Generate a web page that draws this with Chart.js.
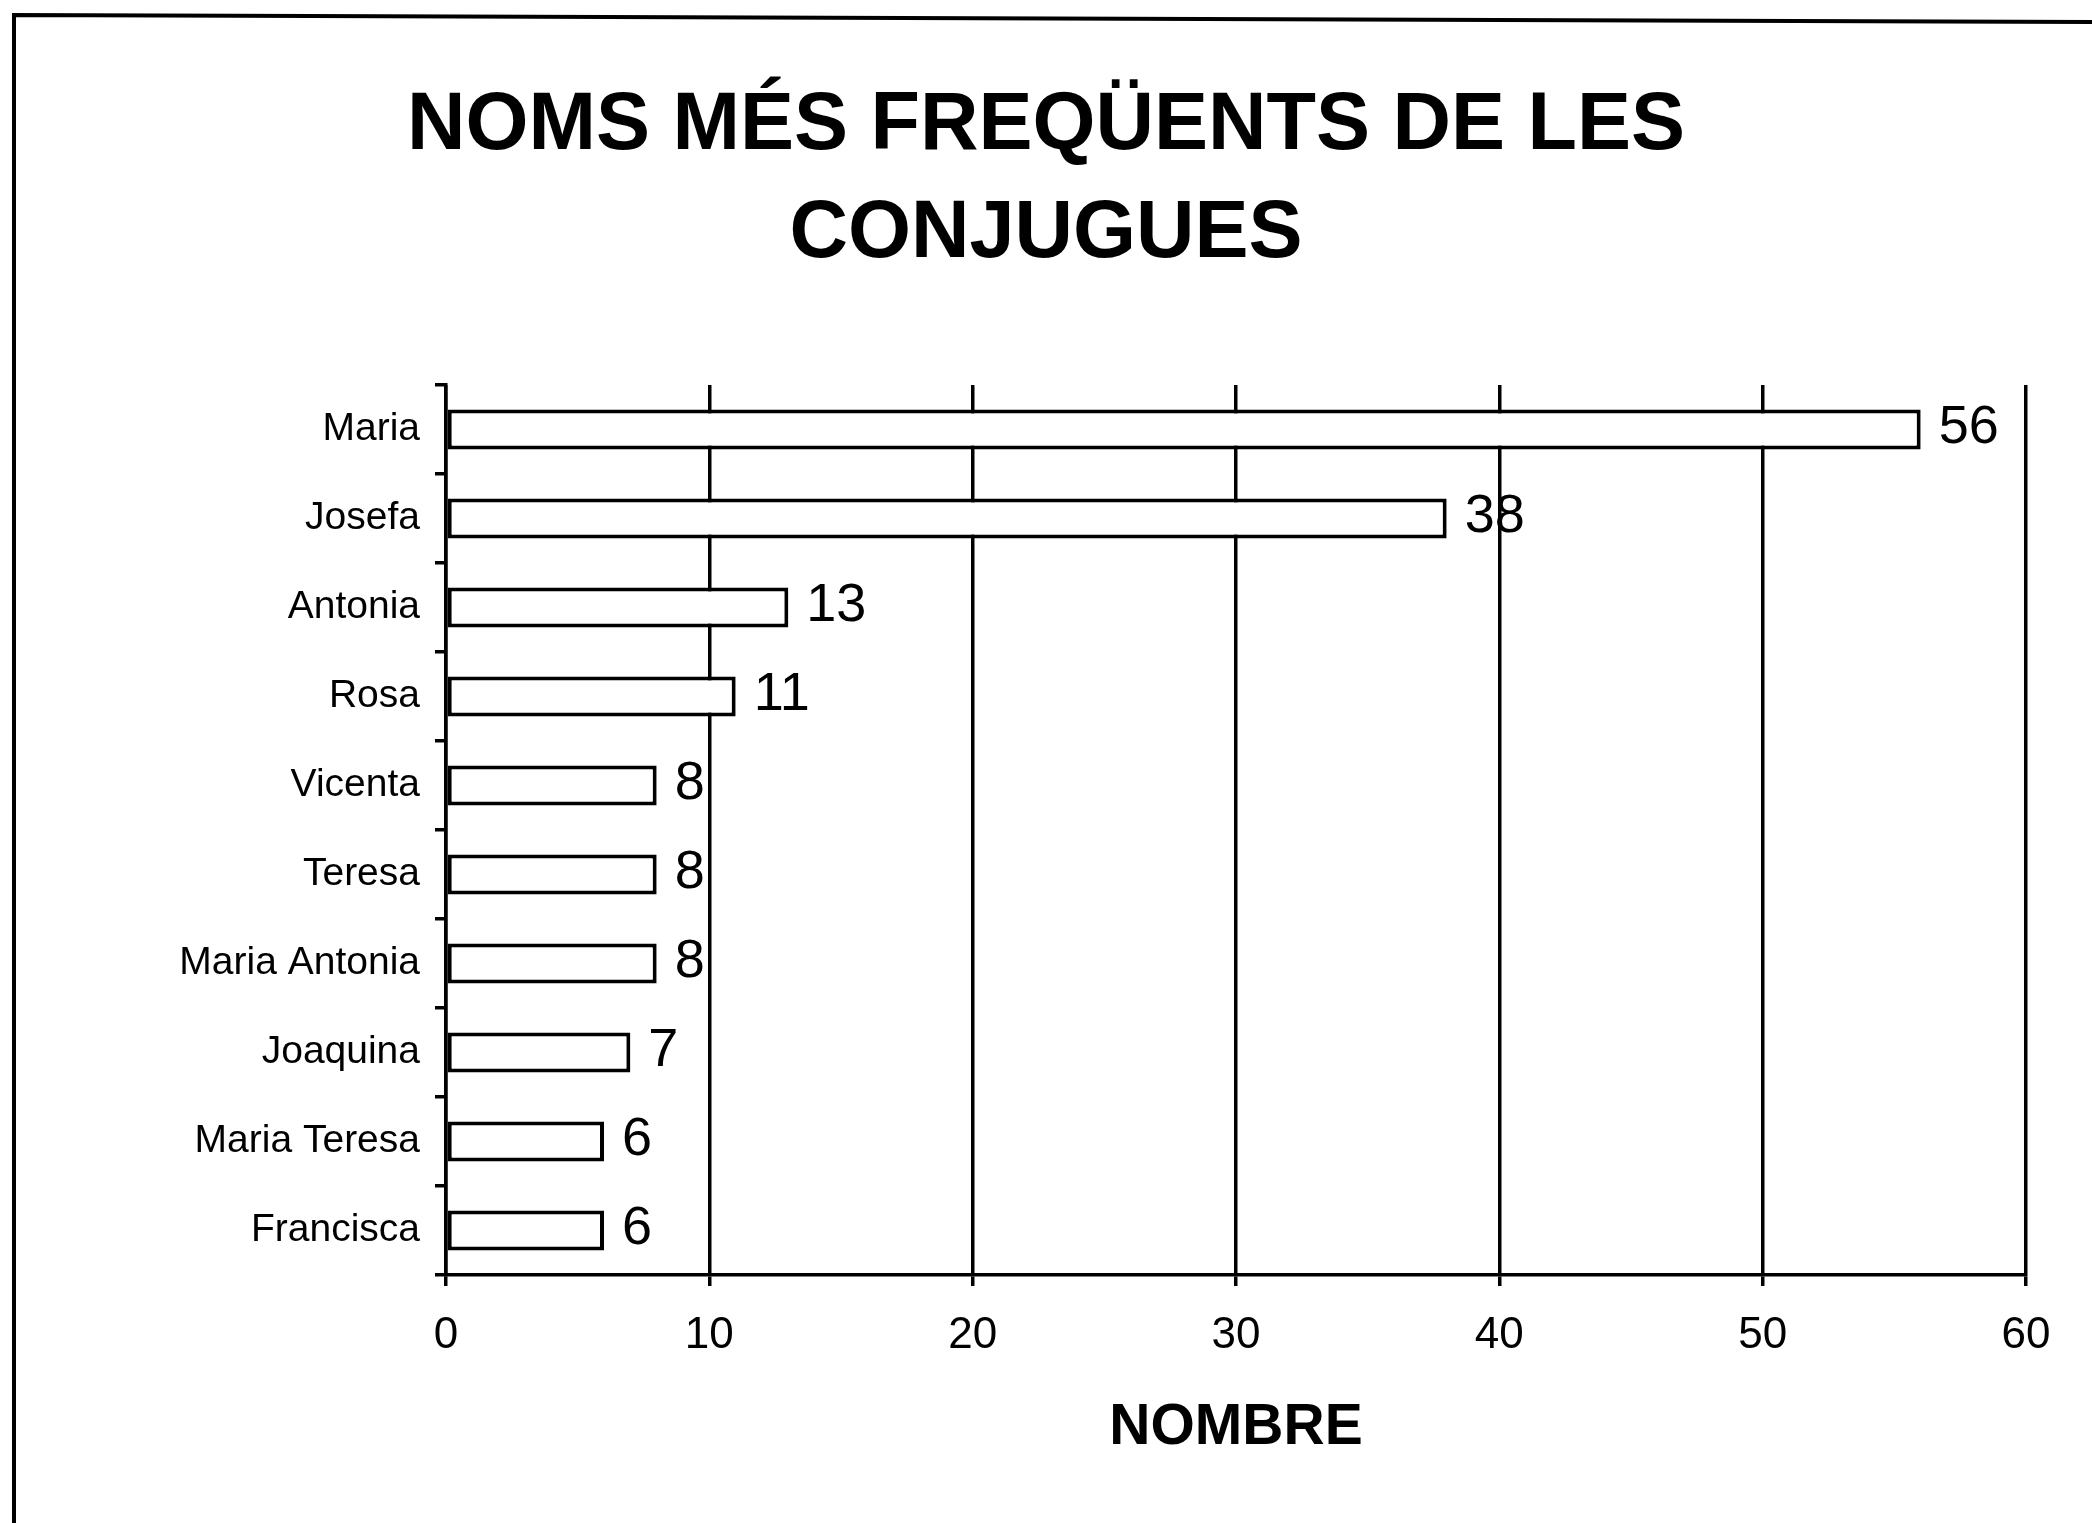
<!DOCTYPE html>
<html>
<head>
<meta charset="utf-8">
<script src="https://cdn.jsdelivr.net/npm/chart.js@4/dist/chart.umd.min.js"></script>
<style>
  html, body { margin: 0; padding: 0; background: #ffffff; }
  #wrap { position: relative; width: 2092px; height: 1523px; }
</style>
</head>
<body>
<div id="wrap"><canvas id="c" width="2092" height="1523"></canvas></div>
<script>
const chartTitle = ['NOMS MÉS FREQÜENTS DE LES', 'CONJUGUES'];
const categories = ['Maria', 'Josefa', 'Antonia', 'Rosa', 'Vicenta', 'Teresa', 'Maria Antonia', 'Joaquina', 'Maria Teresa', 'Francisca'];
const values = [56, 38, 13, 11, 8, 8, 8, 7, 6, 6];
const xAxisTitle = 'NOMBRE';
const xMin = 0, xMax = 60, xStep = 10;

const framePlugin = {
  id: 'frame',
  beforeDraw(chart) {
    const ctx = chart.ctx;
    ctx.save();
    ctx.fillStyle = '#ffffff';
    ctx.fillRect(0, 0, chart.width, chart.height);
    ctx.strokeStyle = '#000';
    ctx.lineWidth = 4;
    ctx.beginPath();
    ctx.moveTo(14, 1523);
    ctx.lineTo(14, 15);
    ctx.lineTo(chart.width, 22);
    ctx.stroke();
    ctx.restore();
  }
};

const valueLabelPlugin = {
  id: 'valueLabels',
  afterDatasetsDraw(chart) {
    const ctx = chart.ctx;
    const meta = chart.getDatasetMeta(0);
    ctx.save();
    ctx.font = '54px "Liberation Sans", Arial, sans-serif';
    ctx.fillStyle = '#000';
    ctx.textAlign = 'left';
    ctx.textBaseline = 'middle';
    meta.data.forEach((bar, i) => {
      ctx.fillText(String(values[i]), bar.x + 18, bar.y - 1);
    });
    ctx.restore();
  }
};

new Chart(document.getElementById('c'), {
  type: 'bar',
  data: {
    labels: categories,
    datasets: [{
      data: values,
      backgroundColor: '#ffffff',
      borderColor: '#000000',
      borderWidth: 4,
      borderSkipped: false,
      barPercentage: 0.45,
      categoryPercentage: 1.0
    }]
  },
  options: {
    indexAxis: 'y',
    responsive: false,
    animation: false,
    devicePixelRatio: 1,
    layout: { padding: { left: 66, right: 66, top: 0, bottom: 0 } },
    plugins: {
      legend: { display: false },
      tooltip: { enabled: false },
      title: {
        display: true,
        text: chartTitle,
        color: '#000',
        font: { family: '"Liberation Sans", Arial, sans-serif', size: 81, weight: 'bold', lineHeight: 108 / 81 },
        padding: { top: 73, bottom: 96 }
      }
    },
    scales: {
      x: {
        type: 'linear',
        position: 'bottom',
        min: xMin,
        max: xMax,
        ticks: {
          stepSize: xStep,
          color: '#000',
          padding: 23,
          font: { family: '"Liberation Sans", Arial, sans-serif', size: 44 }
        },
        grid: { color: '#000', lineWidth: 3.5, tickLength: 11, drawOnChartArea: true, drawTicks: true },
        border: { color: '#000', width: 3.5 },
        title: {
          display: true,
          text: xAxisTitle,
          color: '#000',
          font: { family: '"Liberation Sans", Arial, sans-serif', size: 57, weight: 'bold', lineHeight: 1.2 },
          padding: { top: 10, bottom: 61 }
        },
        afterFit(scale) { scale.height = 248; }
      },
      y: {
        type: 'category',
        offset: true,
        ticks: {
          color: '#000',
          padding: 15,
          font: { family: '"Liberation Sans", Arial, sans-serif', size: 39 }
        },
        grid: { offset: true, color: '#000', lineWidth: 3.5, tickLength: 11, drawOnChartArea: false, drawTicks: true },
        border: { color: '#000', width: 3.5 },
        afterFit(scale) { scale.width = 380; }
      }
    }
  },
  plugins: [framePlugin, valueLabelPlugin]
});
</script>
</body>
</html>
